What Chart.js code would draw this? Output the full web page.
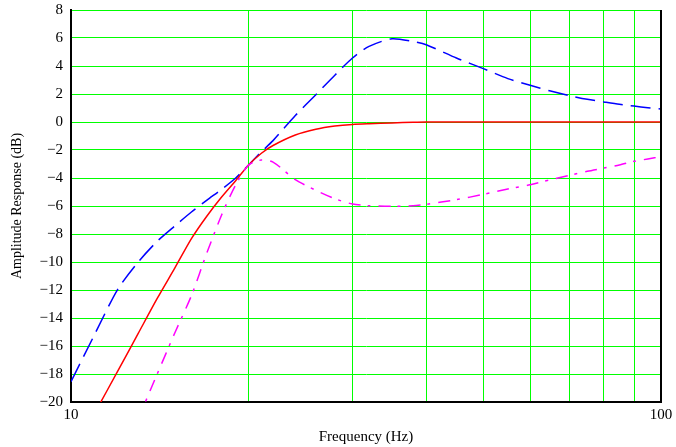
<!DOCTYPE html>
<html>
<head>
<meta charset="utf-8">
<script src="https://cdn.jsdelivr.net/npm/chart.js@4.4.1/dist/chart.umd.min.js"></script>
<style>
  body { margin: 0; background: #fff; }
  canvas { display: block; }
</style>
</head>
<body>
<canvas id="response" width="676" height="447"></canvas>
<script>
// frequency points (Hz) shared by all three curves
var freqHz = [10, 11, 12, 13, 14, 15, 16, 17, 18, 19, 20, 21, 22, 24, 26, 28, 30, 32, 35, 38,
              40, 45, 50, 55, 60, 65, 70, 75, 80, 85, 90, 95, 100];

// amplitude response in dB
var boostDb = [-18.55, -15.06, -11.95, -10.0, -8.52, -7.42, -6.43, -5.58, -4.81, -4.02,
               -3.07, -2.15, -1.33, 0.46, 1.95, 3.34, 4.57, 5.4, 5.95, 5.75,
               5.52, 4.57, 3.81, 3.10, 2.62, 2.21, 1.88, 1.62, 1.43, 1.26, 1.14, 1.02, 0.93];
var flatDb = [null, -20.7, -17.8, -15.1, -12.6, -10.42, -8.33, -6.71, -5.36, -4.21,
              -3.07, -2.25, -1.68, -0.93, -0.52, -0.29, -0.17, -0.12, -0.07, -0.02,
              0, 0, 0, 0, 0, 0, 0, 0, 0, 0, 0, 0, 0];
var cutDb = [null, null, null, -21.2, -18.0, -15.05, -12.4, -9.33, -6.64, -4.52,
             -3.07, -2.72, -2.86, -4.12, -4.88, -5.48, -5.86, -5.98, -6.02, -5.98,
             -5.88, -5.55, -5.17, -4.79, -4.48, -4.12, -3.81, -3.52, -3.29, -3.07, -2.81, -2.64, -2.48];

// axis ticks
var xTicks = [10, 20, 30, 40, 50, 60, 70, 80, 90, 100];
var xTickLabels = ['10', '100'];
var yMin = -20, yMax = 8, yStep = 2;

function points(values) {
    return freqHz.map(function (f, i) {
        return { x: f, y: values[i] };
    });
}

var serif = { family: 'Liberation Serif', size: 15 };
var serifSmall = { family: 'Liberation Serif', size: 14 };
var gridGreen = '#00ff00';

// black frame on the right side of the plot
var rightEdge = {
    id: 'rightEdge',
    afterDraw: function (chart) {
        var a = chart.chartArea, c = chart.ctx;
        c.save();
        c.strokeStyle = '#000';
        c.lineWidth = 2;
        c.beginPath();
        c.moveTo(a.right, a.top);
        c.lineTo(a.right, a.bottom + 1);
        c.stroke();
        c.restore();
    }
};

var ctx = document.getElementById('response');
var chart = new Chart(ctx, {
    type: 'line',
    data: {
        datasets: [{
            data: points(cutDb),
            borderColor: '#ff00ff',
            borderWidth: 1.5,
            borderDash: [12, 7, 3, 8],
            pointRadius: 0,
            tension: 0.25
        }, {
            data: points(flatDb),
            borderColor: '#ff0000',
            borderWidth: 1.5,
            pointRadius: 0,
            tension: 0.25
        }, {
            data: points(boostDb),
            borderColor: '#0000ff',
            borderWidth: 1.5,
            borderDash: [20, 8],
            pointRadius: 0,
            tension: 0.25
        }]
    },
    options: {
        responsive: false,
        animation: false,
        devicePixelRatio: 1,
        layout: { padding: { left: 0, right: 15, top: 10, bottom: 0 } },
        plugins: {
            legend: { display: false },
            tooltip: { enabled: false }
        },
        scales: {
            x: {
                type: 'logarithmic',
                min: 10,
                max: 100,
                afterBuildTicks: function (axis) {
                    axis.ticks = xTicks.map(function (v) { return { value: v }; });
                },
                afterFit: function (axis) {
                    axis.height = 45;
                    axis.paddingLeft = 0;
                    axis.paddingRight = 0;
                },
                ticks: {
                    autoSkip: false,
                    maxRotation: 0,
                    padding: 4,
                    color: '#000',
                    font: serif,
                    callback: function (v) {
                        return xTickLabels.indexOf(String(v)) >= 0 ? String(v) : '';
                    }
                },
                grid: { color: gridGreen, lineWidth: 1, drawTicks: false },
                border: { color: '#000', width: 2 },
                title: {
                    display: true,
                    text: 'Frequency (Hz)',
                    color: '#000',
                    font: serif,
                    padding: { top: 0, bottom: 1 }
                }
            },
            y: {
                min: yMin,
                max: yMax,
                afterFit: function (axis) {
                    axis.width = 71;
                    axis.paddingTop = 0;
                    axis.paddingBottom = 0;
                },
                ticks: {
                    stepSize: yStep,
                    padding: 8,
                    color: '#000',
                    font: serif,
                    callback: function (v) {
                        return v < 0 ? '\u2212' + Math.abs(v) : String(v);
                    }
                },
                grid: { color: gridGreen, lineWidth: 1, drawTicks: false },
                border: { color: '#000', width: 2 },
                title: {
                    display: true,
                    text: 'Amplitude Response (dB)',
                    color: '#000',
                    font: serifSmall,
                    padding: { top: 9, bottom: 0 }
                }
            }
        }
    },
    plugins: [rightEdge]
});
</script>
</body>
</html>
